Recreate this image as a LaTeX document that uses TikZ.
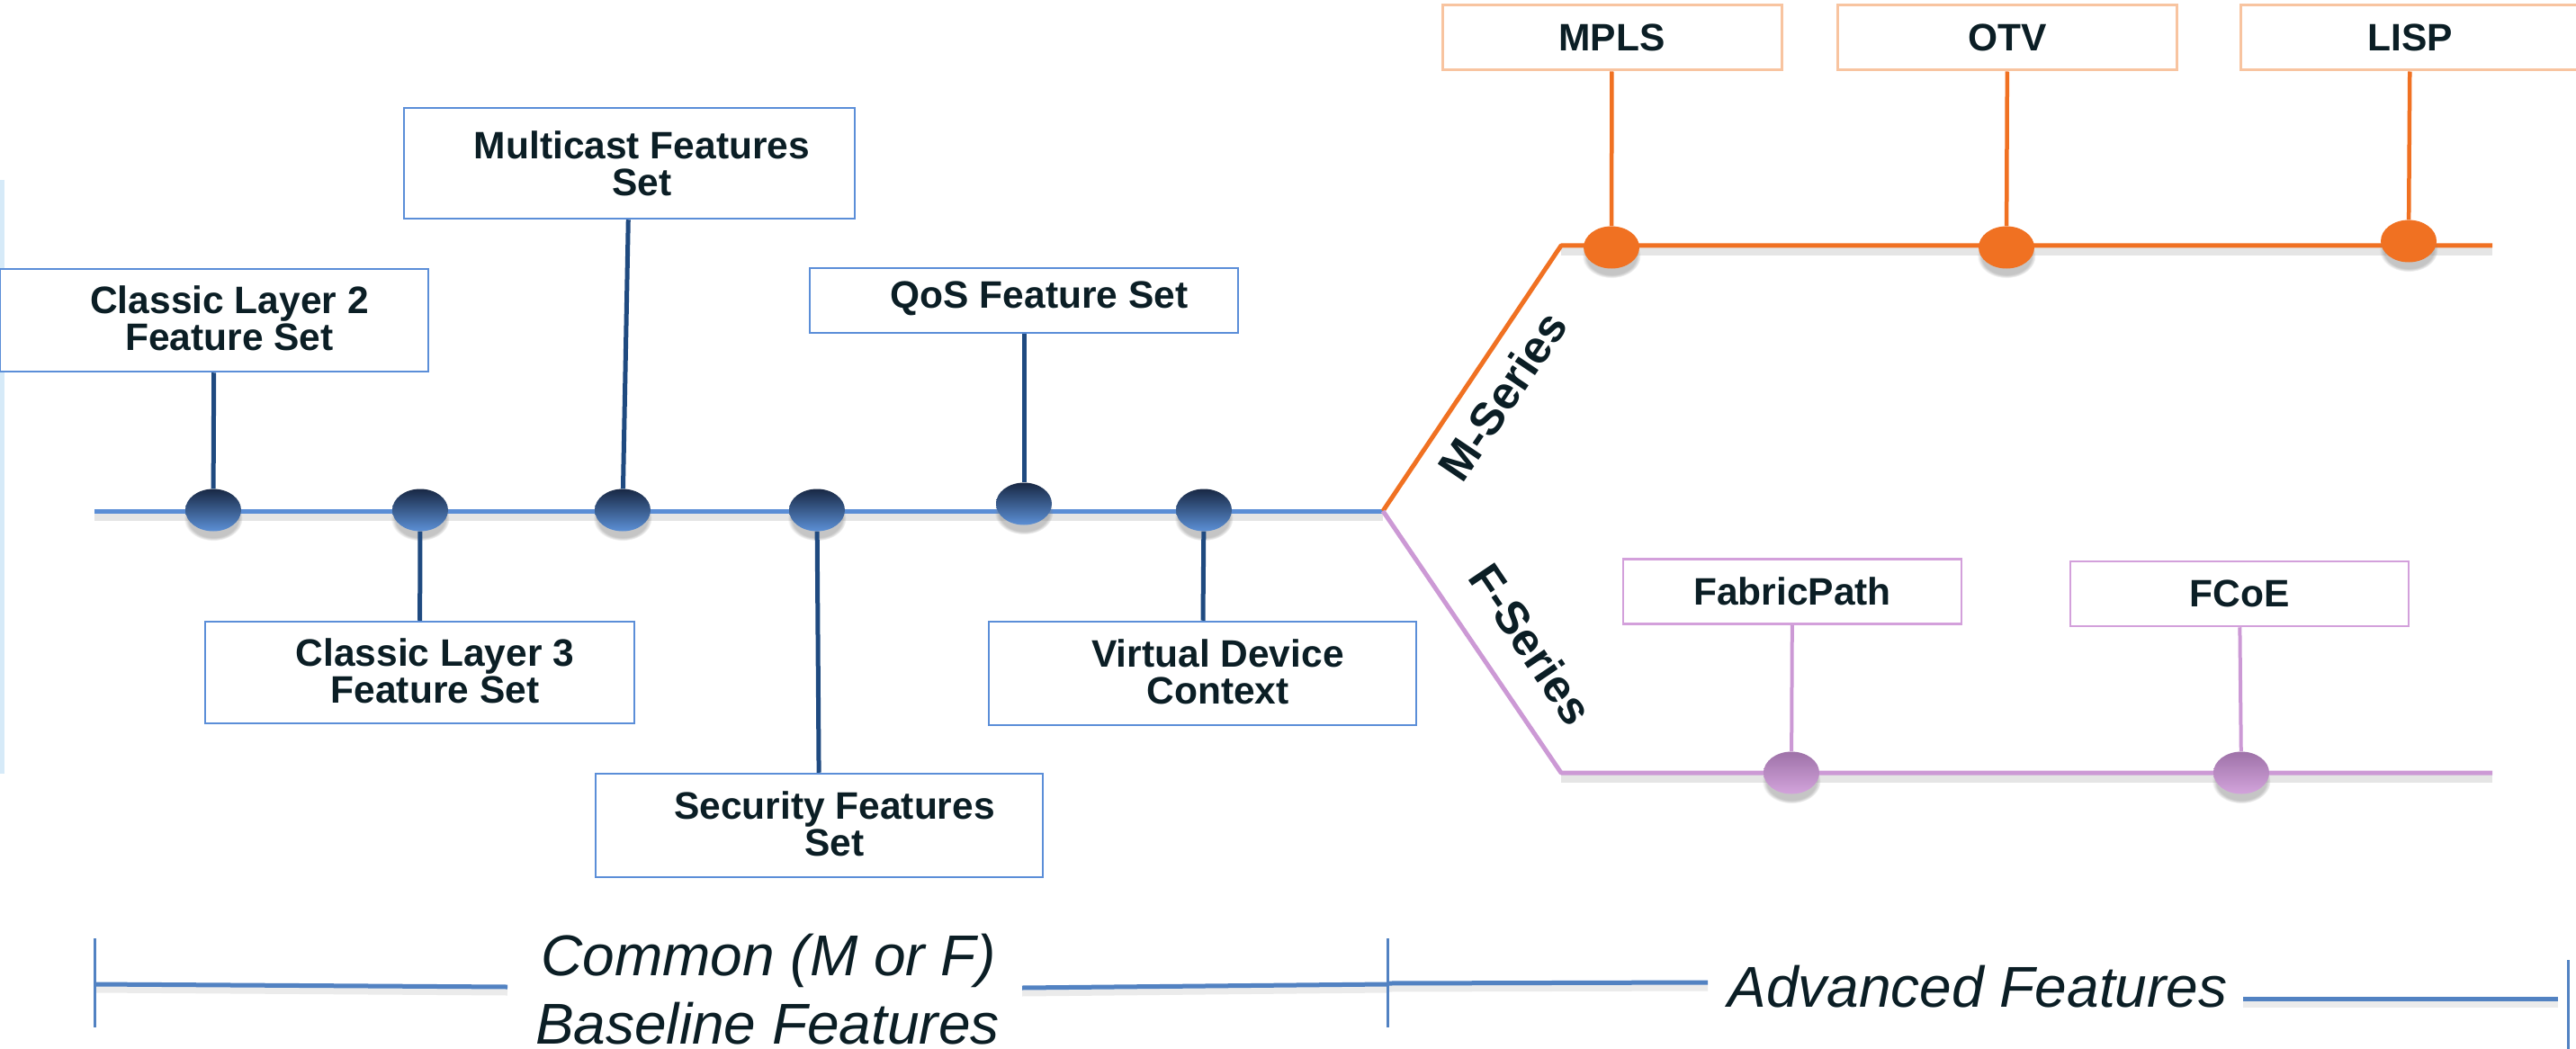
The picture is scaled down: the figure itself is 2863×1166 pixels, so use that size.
\documentclass[tikz,border=0pt]{standalone}
\usepackage{fontspec}
\setmainfont{Liberation Sans}
\usetikzlibrary{shapes.geometric,shadows}
\definecolor{txt}{HTML}{0B1E25}
\definecolor{mainblue}{HTML}{5B8ED6}
\definecolor{boxblue}{HTML}{5B8ED8}
\definecolor{connblue}{HTML}{1F4A80}
\definecolor{ntop}{HTML}{182844}
\definecolor{nbot}{HTML}{5C90D6}
\definecolor{orangeM}{HTML}{F07122}
\definecolor{boxorange}{HTML}{F8C4A0}
\definecolor{purpleF}{HTML}{CC99D5}
\definecolor{boxpurple}{HTML}{D3A0DB}
\definecolor{ptop}{HTML}{9E72A8}
\definecolor{pbot}{HTML}{D3A4DC}
\definecolor{steel}{HTML}{5282C2}
\definecolor{faint}{HTML}{D6EAF8}
\newcommand\labfont{\bfseries\fontsize{42.5pt}{41pt}\selectfont}
\newcommand\serfont{\bfseries\fontsize{51pt}{51pt}\selectfont}
\newcommand\bigital{\itshape\fontsize{64pt}{76pt}\selectfont}
\tikzset{
  boxb/.style={draw=boxblue, line width=2.5pt, fill=white, inner sep=0pt},
  boxo/.style={draw=boxorange, line width=3pt, fill=white, inner sep=0pt, minimum width=377pt, minimum height=72pt, text=txt, font=\labfont},
  boxp/.style={draw=boxpurple, line width=2.5pt, fill=white, inner sep=0pt, minimum width=376pt, minimum height=72pt, text=txt, font=\labfont},
  lab/.style={text=txt, font=\labfont, align=center, inner sep=0pt},
  serlab/.style={text=txt, font=\serfont, inner sep=0pt},
  big/.style={text=txt, font=\bigital, inner sep=0pt},
  dotbase/.style={ellipse, inner sep=0pt, minimum width=62pt, minimum height=47pt,
    circular drop shadow={shadow xshift=0pt, shadow yshift=-9pt, shadow scale=1.05, opacity=.45}},
  dotb/.style={dotbase, top color=ntop, bottom color=nbot, draw=none},
  doto/.style={dotbase, fill=orangeM, draw=none},
  dotp/.style={dotbase, top color=ptop, bottom color=pbot, draw=none},
  connb/.style={draw=connblue, line width=5pt},
  conno/.style={draw=orangeM, line width=4.5pt},
  connp/.style={draw=purpleF, line width=4pt},
  lshadow/.style={draw=black, opacity=.10, line width=9pt},
  mainline/.style={draw=mainblue, line width=5pt},
  oline/.style={draw=orangeM, line width=5pt, line join=round},
  pline/.style={draw=purpleF, line width=5pt, line join=round},
  rangeline/.style={draw=steel, line width=5pt},
  tickline/.style={draw=steel, line width=3pt},
}
\begin{document}
\begin{tikzpicture}[x=1pt,y=-1pt]
\useasboundingbox (0,0) rectangle (2863,1166);
\clip (0,0) rectangle (2863,1166);
\fill[white] (0,0) rectangle (2863,1166);

% faint left edge line
\coordinate (f1) at (2,200);
\coordinate (f2) at (2,860);
\draw[draw=faint, line width=5pt] (f1) -- (f2);

% main coordinates
\coordinate (L0) at (105,568);
\coordinate (B) at (1537,568);
\coordinate (oc) at (1735,273);
\coordinate (oe) at (2770,273);
\coordinate (pc) at (1735,859);
\coordinate (pe) at (2770,859);

% shadows of lines
\draw[lshadow] ([yshift=-6pt]L0) -- ([yshift=-6pt]B);
\draw[lshadow] ([yshift=-6pt]oc) -- ([yshift=-6pt]oe);
\draw[lshadow] ([yshift=-6pt]pc) -- ([yshift=-6pt]pe);

% lines
\draw[mainline] (L0) -- (B);
\draw[oline] (B) -- (oc) -- (oe);
\draw[pline] (B) -- (pc) -- (pe);

% blue boxes
\node[boxb, minimum width=476pt, minimum height=114pt] (cl2) at (238,356) {};
\node[lab] (cl2t) at ([xshift=17pt,yshift=2pt]cl2.center) {Classic Layer 2\\Feature Set};
\node[boxb, minimum width=501pt, minimum height=123pt] (mc) at (699.5,181.5) {};
\node[lab] (mct) at ([xshift=14pt]mc.center) {Multicast Features\\Set};
\node[boxb, minimum width=477pt, minimum height=113pt] (cl3) at (466.5,747.5) {};
\node[lab] (cl3t) at ([xshift=17pt,yshift=2pt]cl3.center) {Classic Layer 3\\Feature Set};
\node[boxb, minimum width=497pt, minimum height=115pt] (sec) at (910.5,917.5) {};
\node[lab] (sect) at ([xshift=17pt,yshift=2pt]sec.center) {Security Features\\Set};
\node[boxb, minimum width=476pt, minimum height=72pt] (qos) at (1138,334) {};
\node[lab] (qost) at ([xshift=17pt,yshift=2pt]qos.center) {QoS Feature Set};
\node[boxb, minimum width=475pt, minimum height=115pt] (vdc) at (1336.5,748.5) {};
\node[lab] (vdct) at ([xshift=17pt,yshift=2pt]vdc.center) {Virtual Device\\Context};

% orange boxes
\node[boxo] (mpls) at (1791.5,42) {MPLS};
\node[boxo] (otv) at (2231,42) {OTV};
\node[boxo] (lisp) at (2678.5,42) {LISP};

% purple boxes
\node[boxp] (fp) at (1992,657.5) {FabricPath};
\node[boxp] (fcoe) at (2489,660) {FCoE};

% dots
\node[dotb] (n1) at (237,567) {};
\node[dotb] (n2) at (467,567) {};
\node[dotb] (n3) at (692,567) {};
\node[dotb] (n4) at (908,567) {};
\node[dotb] (n5) at (1138,560) {};
\node[dotb] (n6) at (1338,567) {};
\node[doto] (o1) at (1791,275) {};
\node[doto] (o2) at (2230,275) {};
\node[doto] (o3) at (2677,268) {};
\node[dotp] (p1) at (1991,859) {};
\node[dotp] (p2) at (2491,859) {};

% connectors
\draw[connb] (cl2) -- (n1);
\draw[connb] (cl3) -- (n2);
\draw[connb] (mc) -- (n3);
\draw[connb] (sec) -- (n4);
\draw[connb] (qos) -- (n5);
\draw[connb] (vdc) -- (n6);
\draw[conno] (mpls) -- (o1);
\draw[conno] (otv) -- (o2);
\draw[conno] (lisp) -- (o3);
\draw[connp] (fp) -- (p1);
\draw[connp] (fcoe) -- (p2);

% series labels
\node[serlab, rotate=56] (mser) at (1670,440) {M-Series};
\node[serlab, rotate=-56] (fser) at (1702,716) {F-Series};

% bottom ranges
\coordinate (t1a) at (105,1043);
\coordinate (t1b) at (105,1142);
\coordinate (t2a) at (1542,1043);
\coordinate (t2b) at (1542,1142);
\coordinate (t3a) at (2854,1067);
\coordinate (t3b) at (2854,1170);
\coordinate (l1s) at (105,1094);
\coordinate (l1e) at (564,1097);
\coordinate (l2s) at (1136,1098);
\coordinate (l2e) at (1541,1094);
\coordinate (l3s) at (1543,1093);
\coordinate (l3e) at (1898,1092);
\coordinate (l4s) at (2493,1110);
\coordinate (l4e) at (2843,1110);
\draw[lshadow, opacity=.08] ([yshift=-5pt]l1s) -- ([yshift=-5pt]l1e);
\draw[lshadow, opacity=.08] ([yshift=-5pt]l2s) -- ([yshift=-5pt]l2e);
\draw[lshadow, opacity=.08] ([yshift=-5pt]l3s) -- ([yshift=-5pt]l3e);
\draw[lshadow, opacity=.08] ([yshift=-5pt]l4s) -- ([yshift=-5pt]l4e);
\draw[rangeline] (l1s) -- (l1e);
\draw[rangeline] (l2s) -- (l2e);
\draw[rangeline] (l3s) -- (l3e);
\draw[rangeline] (l4s) -- (l4e);
\draw[tickline] (t1a) -- (t1b);
\draw[tickline] (t2a) -- (t2b);
\draw[tickline] (t3a) -- (t3b);
\node[big, anchor=base] (cm1) at (854,1084) {Common (M or F)};
\node[big, anchor=base] (cm2) at (853,1160) {Baseline Features};
\node[big, anchor=base] (adv) at (2198,1119) {Advanced Features};
\end{tikzpicture}
\end{document}
